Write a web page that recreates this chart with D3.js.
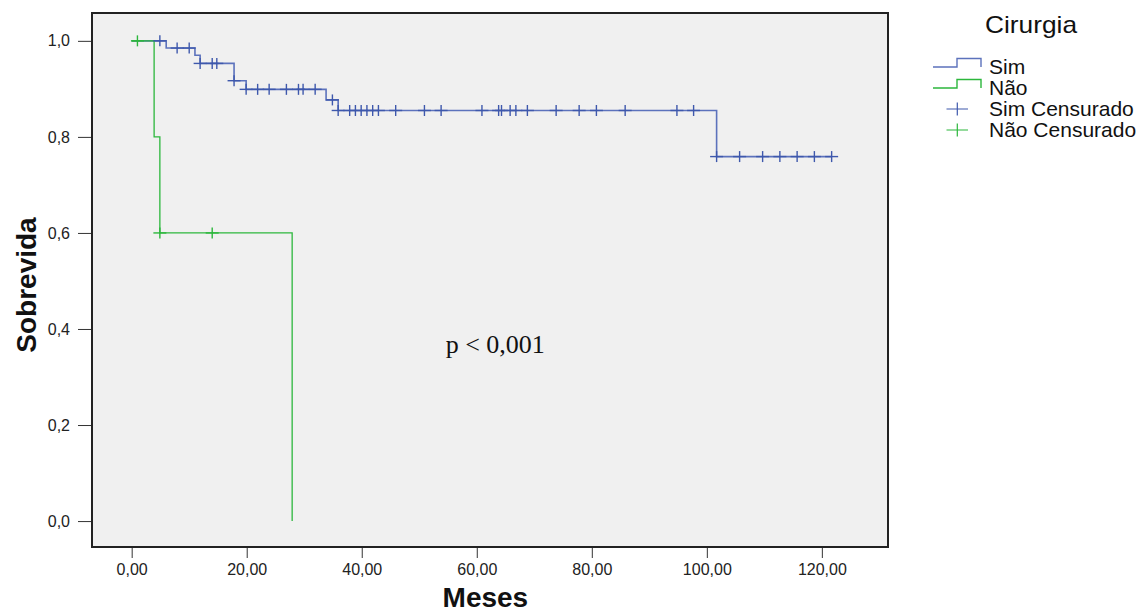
<!DOCTYPE html>
<html>
<head>
<meta charset="utf-8">
<script src="https://cdn.jsdelivr.net/npm/d3@7"></script>
<style>
  body { margin: 0; background: #fff; }
  svg text { font-family: Arial, "Liberation Sans", sans-serif; }
</style>
</head>
<body>
<svg id="km"></svg>
<script>
// Kaplan-Meier: Sobrevida x Meses, por Cirurgia
const simTimes = [0, 6.0, 11.0, 11.9, 17.8, 19.9, 33.8, 35.9, 101.7, 121.7];
const simSurv  = [1.0, 0.985, 0.970, 0.953, 0.917, 0.899, 0.877, 0.855, 0.759, 0.759];
const naoTimes = [0, 3.9, 4.9, 27.9];
const naoSurv  = [1.0, 0.80, 0.60, 0.0];

const simCensTimes = [4.9, 7.9, 10.0, 11.9, 14.0, 14.8, 17.8,
  19.9, 21.9, 23.9, 26.9, 29.0, 29.8, 31.9, 34.9,
  35.9, 37.9, 38.9, 39.9, 40.9, 41.9, 42.9, 45.9, 50.9, 53.8, 60.9, 63.8, 64.3, 65.8, 66.8, 68.8,
  73.8, 77.8, 80.8, 85.8, 94.8, 97.7,
  101.7, 105.7, 109.7, 112.7, 115.7, 118.7, 121.7];
const simCensSurv = [1.0, 0.985, 0.985, 0.953, 0.953, 0.953, 0.917,
  0.899, 0.899, 0.899, 0.899, 0.899, 0.899, 0.899, 0.877,
  0.855, 0.855, 0.855, 0.855, 0.855, 0.855, 0.855, 0.855, 0.855, 0.855, 0.855, 0.855, 0.855, 0.855, 0.855, 0.855,
  0.855, 0.855, 0.855, 0.855, 0.855, 0.855,
  0.759, 0.759, 0.759, 0.759, 0.759, 0.759, 0.759];
const naoCensTimes = [1.0, 4.9, 14.0];
const naoCensSurv  = [1.0, 0.60, 0.60];

const xTicks = [0, 20, 40, 60, 80, 100, 120];
const yTicks = [0, 0.2, 0.4, 0.6, 0.8, 1.0];
const legendLabels = ["Sim", "Não", "Sim Censurado", "Não Censurado"];

const width = 1148, height = 613;
const blue = "#3e58ac", blueLine = "#5c72bc", green = "#2cb73c";

const svg = d3.select("#km").attr("width", width).attr("height", height);

const x = d3.scaleLinear().domain([-6.9, 131.5]).range([92, 888]);
const y = d3.scaleLinear().domain([-0.054, 1.058]).range([547, 13]);

svg.append("rect")
  .attr("x", 92).attr("y", 13).attr("width", 796).attr("height", 534)
  .attr("fill", "#f0f0f0");

const comma = (d, n) => d.toFixed(n).replace(".", ",");

const xAxis = svg.append("g")
  .attr("transform", "translate(0,547)")
  .call(d3.axisBottom(x).tickValues(xTicks).tickSize(11).tickPadding(6).tickFormat(d => comma(d, 2)));
xAxis.select(".domain").remove();
xAxis.selectAll("line").attr("stroke", "#333");
xAxis.selectAll("text").attr("font-size", 16).attr("fill", "#222");

const yAxis = svg.append("g")
  .attr("transform", "translate(92,0)")
  .call(d3.axisLeft(y).tickValues(yTicks).tickSize(14).tickPadding(8).tickFormat(d => comma(d, 1)));
yAxis.select(".domain").remove();
yAxis.selectAll("line").attr("stroke", "#333");
yAxis.selectAll("text").attr("font-size", 16).attr("fill", "#222");

const step = d3.line().x(d => x(d[0])).y(d => y(d[1])).curve(d3.curveStepAfter);

svg.append("path")
  .datum(d3.zip(simTimes, simSurv))
  .attr("d", step).attr("fill", "none")
  .attr("stroke", blueLine).attr("stroke-width", 1.6);

svg.append("path")
  .datum(d3.zip(naoTimes, naoSurv))
  .attr("d", step).attr("fill", "none")
  .attr("stroke", green).attr("stroke-width", 1.3);

function censors(times, surv, color) {
  const g = svg.append("g").attr("stroke", color).attr("stroke-width", 1.4);
  const pts = d3.zip(times, surv);
  g.selectAll(".h").data(pts).enter().append("line")
    .attr("x1", d => x(d[0]) - 6.5).attr("x2", d => x(d[0]) + 6.5)
    .attr("y1", d => y(d[1])).attr("y2", d => y(d[1]));
  g.selectAll(".v").data(pts).enter().append("line")
    .attr("x1", d => x(d[0])).attr("x2", d => x(d[0]))
    .attr("y1", d => y(d[1]) - 5.5).attr("y2", d => y(d[1]) + 5.5);
}
censors(simCensTimes, simCensSurv, blue);
censors(naoCensTimes, naoCensSurv, green);

svg.append("rect")
  .attr("x", 92).attr("y", 13).attr("width", 796).attr("height", 534)
  .attr("fill", "none").attr("stroke", "#222").attr("stroke-width", 2);

svg.append("text")
  .attr("x", x(54.6)).attr("y", y(0.351))
  .style("font-family", "'Liberation Serif', 'Times New Roman', serif")
  .attr("font-size", 26).attr("fill", "#111")
  .text("p < 0,001");

// axis titles
svg.append("text")
  .attr("x", x(61.5)).attr("y", 607)
  .attr("text-anchor", "middle").attr("font-size", 28).attr("font-weight", "bold")
  .attr("fill", "#111").text("Meses");

svg.append("text")
  .attr("transform", "translate(36,285) rotate(-90)")
  .attr("text-anchor", "middle").attr("font-size", 28).attr("font-weight", "bold")
  .attr("fill", "#111").text("Sobrevida");

// legend
const legend = svg.append("g");
legend.append("text")
  .attr("x", 985).attr("y", 33).attr("font-size", 24).attr("fill", "#111")
  .attr("textLength", 92).attr("lengthAdjust", "spacingAndGlyphs")
  .text("Cirurgia");

const legendColors = [blueLine, green, blue, green];
legendLabels.forEach((label, i) => {
  const cy = 67 + i * 21;
  if (i < 2) {
    legend.append("path")
      .attr("d", `M933,${cy}H957V${cy - 8.5}H981V${cy}`)
      .attr("fill", "none").attr("stroke", legendColors[i]).attr("stroke-width", 1.4);
  } else {
    legend.append("path")
      .attr("d", `M946.5,${cy}H968 M957.3,${cy - 6.5}V${cy + 6.5}`)
      .attr("fill", "none").attr("stroke", legendColors[i]).attr("stroke-width", 1.2);
  }
  legend.append("text")
    .attr("x", 989).attr("y", cy + 7).attr("font-size", 21).attr("fill", "#111")
    .text(label);
});
</script>
</body>
</html>
